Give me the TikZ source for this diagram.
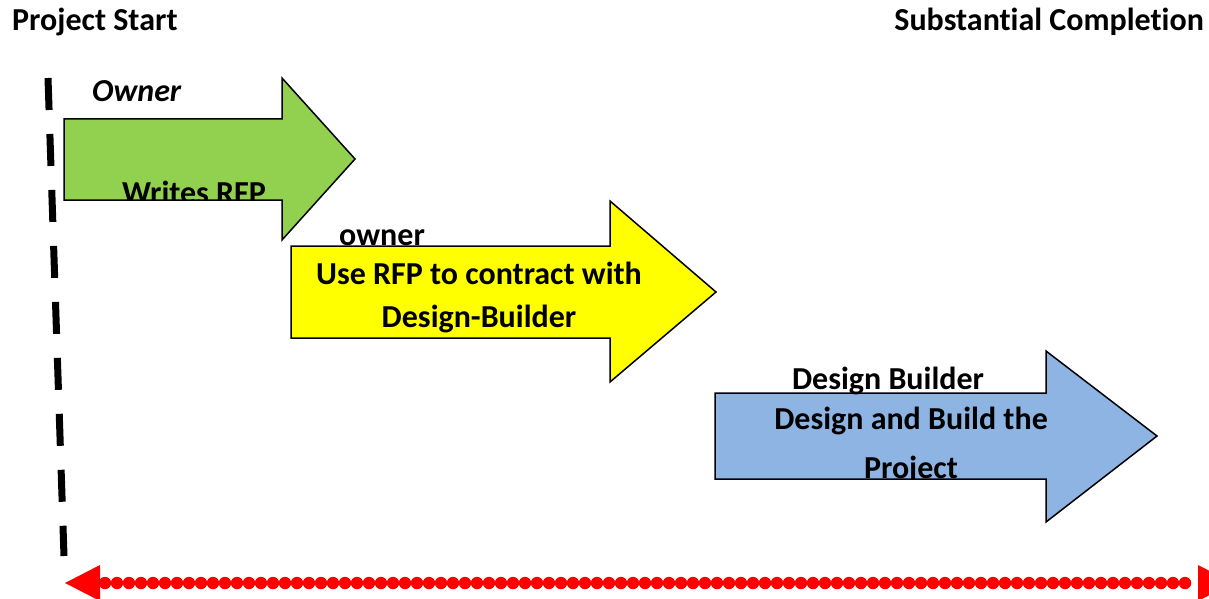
\documentclass[tikz,border=0pt]{standalone}
\usepackage{fontspec}
\setmainfont[Ligatures=NoCommon]{Carlito}
\definecolor{stepgreen}{HTML}{92D050}
\definecolor{stepyellow}{HTML}{FFFF00}
\definecolor{stepblue}{HTML}{8EB4E3}
\begin{document}
\begin{tikzpicture}[x=1pt,y=-1pt,
  blockarrow/.style={draw=black,line width=1.5pt,line join=miter},
  lbl/.style={font=\fontsize{32}{38}\selectfont\bfseries,inner sep=0pt,anchor=base},
  reddot/.style={fill=red,draw=none}]
\useasboundingbox (0,0) rectangle (1209,599);

% headings
\node[lbl,anchor=base west] (start) at (12,31) {Project Start};
\node[lbl,anchor=base east] (finish) at (1204,31) {Substantial Completion};

% project start marker
\coordinate (mtop) at (48,78);
\coordinate (mbot) at (64,556);
\draw[line width=7pt,dash pattern=on 32pt off 24pt] (mtop) -- (mbot);

% step 1: owner writes the RFP
\draw[blockarrow,fill=stepgreen] (64,119) -- (282,119) -- (282,78) -- (355,159)
  -- (282,240) -- (282,200) -- (64,200) -- cycle;
\begin{scope}
  \clip (64,119) rectangle (282,200);
  \node[lbl] (writes) at (194,203) {Writes RFP};
\end{scope}
\node[lbl,anchor=base west,font=\fontsize{32}{38}\selectfont\bfseries\itshape] (own1) at (92,102) {Owner};

% step 2: owner contracts with the design-builder
\draw[blockarrow,fill=stepyellow] (291,246) -- (610,246) -- (610,201) -- (716,292)
  -- (610,382) -- (610,338) -- (291,338) -- cycle;
\node[lbl,anchor=base west] (own2) at (339,245) {owner};
\node[lbl] (use1) at (479,284) {Use RFP to contract with};
\node[lbl] (use2) at (479,327) {Design-Builder};

% step 3: design-builder designs and builds
\draw[blockarrow,fill=stepblue] (715,393) -- (1046,393) -- (1046,351) -- (1157,436)
  -- (1046,522) -- (1046,479) -- (715,479) -- cycle;
\node[lbl] (db) at (888,389) {Design Builder};
\node[lbl] (dab1) at (911,429) {Design and Build the};
\begin{scope}
  \clip (715,393) rectangle (1046,479);
  \node[lbl] (dab2) at (911,478) {Project};
\end{scope}

% overall duration
\fill[reddot] (65,583) -- (100,565) -- (100,601) -- cycle;
\fill[reddot] (1233,583) -- (1198,565) -- (1198,601) -- cycle;
\foreach \i in {0,...,90} {
  \fill[reddot] (105+12*\i,583) circle (6.2pt);
}
\end{tikzpicture}
\end{document}
